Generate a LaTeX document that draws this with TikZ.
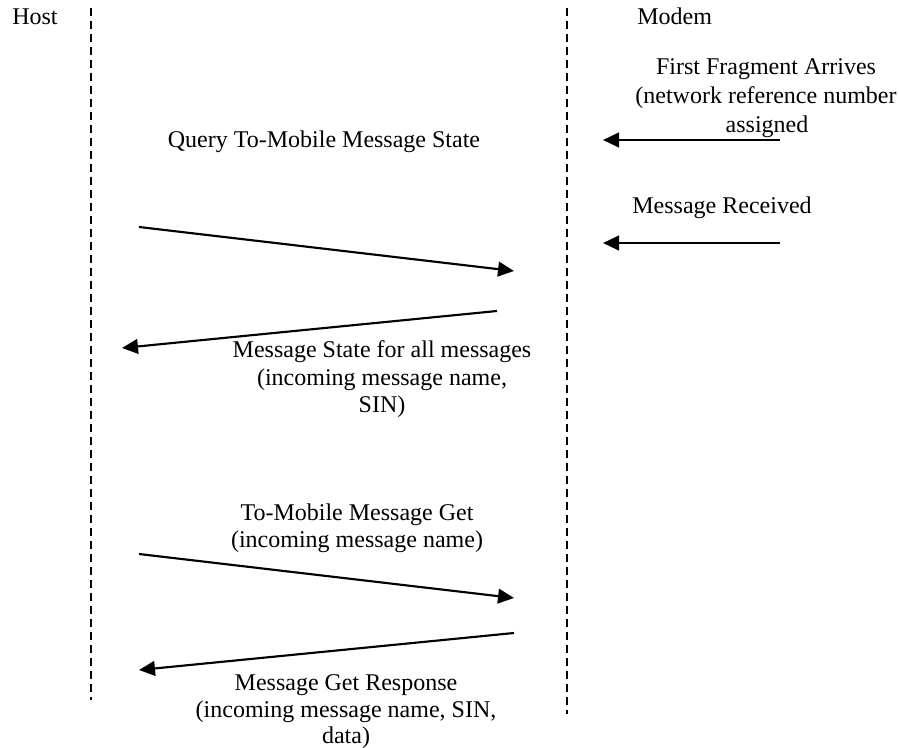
\documentclass[tikz,border=0pt]{standalone}
\usepackage{fontspec}
\setmainfont{Liberation Serif}
\usetikzlibrary{arrows.meta}
\begin{document}
\begin{tikzpicture}[x=0.75pt,y=-0.75pt,
  lbl/.style={inner sep=0pt,anchor=base,font=\fontsize{18}{20}\selectfont},
  lbll/.style={lbl,anchor=base west},
  lifeline/.style={line width=1.2pt,dash pattern=on 6pt off 3.75pt},
  msg/.style={line width=1.6pt,-{Triangle[length=12pt,width=11pt]}}]
\useasboundingbox (0,0) rectangle (899,748);
% lifelines
\coordinate (hT) at (91,8);
\coordinate (hB) at (91,700);
\coordinate (mT) at (567,8);
\coordinate (mB) at (567,714);
\draw[lifeline] (hT) -- (hB);
\draw[lifeline] (mT) -- (mB);
% headers
\node[lbll] (host) at (12,25) {Host};
\node[lbll] (modem) at (637,25) {Modem};
% first fragment
\node[lbl] (ff1) at (766,75) {First Fragment Arrives};
\node[lbl] (ff2) at (766,104) {(network reference number};
\node[lbl] (ff3) at (767,133) {assigned};
\coordinate (a1s) at (780,140);
\coordinate (a1e) at (603,140);
\draw[msg] (a1s) -- (a1e);
% query
\node[lbl] (q1) at (324,148) {Query To-Mobile Message State};
% message received
\node[lbl] (mr) at (722,214) {Message Received};
\coordinate (a2s) at (780,243);
\coordinate (a2e) at (603,243);
\draw[msg] (a2s) -- (a2e);
% query arrows
\coordinate (a3s) at (139,227);
\coordinate (a3e) at (514,271);
\draw[msg] (a3s) -- (a3e);
\coordinate (a4s) at (497,311);
\coordinate (a4e) at (122,348);
\draw[msg] (a4s) -- (a4e);
\node[lbl] (ms1) at (382,358) {Message State for all messages};
\node[lbl] (ms2) at (382,385) {(incoming message name,};
\node[lbl] (ms3) at (382,412) {SIN)};
% get
\node[lbl] (g1) at (357,520) {To-Mobile Message Get};
\node[lbl] (g2) at (357,547) {(incoming message name)};
\coordinate (a5s) at (139,554);
\coordinate (a5e) at (514,598);
\draw[msg] (a5s) -- (a5e);
\coordinate (a6s) at (514,633);
\coordinate (a6e) at (139,670);
\draw[msg] (a6s) -- (a6e);
\node[lbl] (gr1) at (346,690) {Message Get Response};
\node[lbl] (gr2) at (346,717) {(incoming message name, SIN,};
\node[lbl] (gr3) at (346,743) {data)};
\end{tikzpicture}
\end{document}
